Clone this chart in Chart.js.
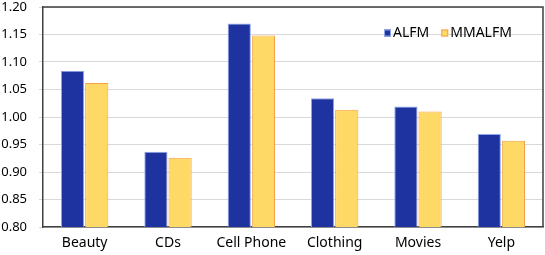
<!DOCTYPE html>
<html>
<head>
<meta charset="utf-8">
<script src="https://cdn.jsdelivr.net/npm/chart.js@4/dist/chart.umd.min.js"></script>
<style>
  html, body { margin: 0; padding: 0; background: #fff; }
  #wrap { width: 545px; height: 255px; }
</style>
</head>
<body>
<div id="wrap"><canvas id="myChart"></canvas></div>
<script>
const categories = ['Beauty', 'CDs', 'Cell Phone', 'Clothing', 'Movies', 'Yelp'];
const alfmValues = [1.084, 0.937, 1.170, 1.034, 1.019, 0.969];
const mmalfmValues = [1.062, 0.926, 1.148, 1.013, 1.010, 0.957];
const yTicks = [0.80, 0.85, 0.90, 0.95, 1.00, 1.05, 1.10, 1.15, 1.20];

const FONT = 'Noto Sans';

// box around the plot area (top and right sides) + legend inside the plot
const plotBox = {
    id: 'plotBox',
    afterDraw(chart) {
        const a = chart.chartArea;
        const c = chart.ctx;
        c.save();
        c.strokeStyle = '#404040';
        c.lineWidth = 1.5;
        c.beginPath();
        c.moveTo(a.left, a.top);
        c.lineTo(a.right, a.top);
        c.lineTo(a.right, a.bottom);
        c.stroke();

        // legend, top right
        c.font = '14px "' + FONT + '"';
        c.textBaseline = 'middle';
        let x = a.left + 341;
        const y = a.top + 26;
        chart.data.datasets.forEach(ds => {
            c.fillStyle = ds.backgroundColor;
            c.fillRect(x, y - 3.5, 7, 7);
            c.strokeStyle = ds.borderColor;
            c.lineWidth = 1;
            c.strokeRect(x + 0.5, y - 3, 6, 6);
            c.fillStyle = '#000';
            c.fillText(ds.label, x + 9, y);
            x += 9 + c.measureText(ds.label).width + 12;
        });
        c.restore();
    }
};

const ctx = document.getElementById('myChart');
new Chart(ctx, {
    type: 'bar',
    data: {
        labels: categories,
        datasets: [{
            label: 'ALFM',
            data: alfmValues,
            backgroundColor: '#1F33A0',
            borderColor: '#8FA8E8',
            borderWidth: 1
        }, {
            label: 'MMALFM',
            data: mmalfmValues,
            backgroundColor: '#FFD966',
            borderColor: '#F5A04A',
            borderWidth: 1
        }]
    },
    options: {
        responsive: true,
        maintainAspectRatio: false,
        animation: false,
        layout: {
            padding: { left: 0, right: 2, top: 7, bottom: 0 }
        },
        categoryPercentage: 0.58,
        barPercentage: 0.96,
        scales: {
            x: {
                grid: { display: false, tickLength: 0 },
                border: { color: '#404040', width: 1.5 },
                ticks: {
                    color: '#000',
                    padding: 8,
                    font: { family: FONT, size: 14 }
                },
                afterFit(axis) {
                    axis.height = 28;
                    axis.paddingLeft = 0;
                    axis.paddingRight = 0;
                }
            },
            y: {
                min: 0.8,
                max: 1.2,
                afterBuildTicks(axis) {
                    axis.ticks = yTicks.map(v => ({ value: v }));
                },
                afterFit(axis) {
                    axis.width = 43;
                    axis.paddingTop = 0;
                    axis.paddingBottom = 0;
                },
                grid: { color: '#D9D9D9', lineWidth: 1, tickLength: 4 },
                border: { color: '#404040', width: 1.5 },
                ticks: {
                    color: '#000',
                    padding: 12,
                    font: { family: FONT, size: 13 },
                    callback: v => v.toFixed(2)
                }
            }
        },
        plugins: {
            legend: { display: false },
            tooltip: { enabled: false }
        }
    },
    plugins: [plotBox]
});
</script>
</body>
</html>
